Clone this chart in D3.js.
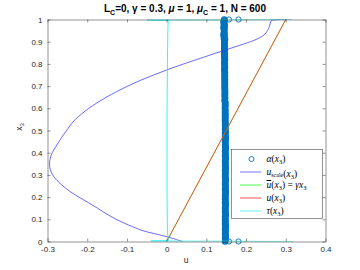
<!DOCTYPE html>
<html>
<head>
<meta charset="utf-8">
<script src="https://cdn.jsdelivr.net/npm/d3@7"></script>
<style>
  body { margin: 0; background: #fff; }
  svg { display: block; }
</style>
</head>
<body>
<div id="chart"></div>
<script>
// tick labels
var uTicks = [-0.3, -0.2, -0.1, 0, 0.1, 0.2, 0.3, 0.4];
var x3Ticks = [0, 0.1, 0.2, 0.3, 0.4, 0.5, 0.6, 0.7, 0.8, 0.9, 1];

// u_scale(x3)
var scaleX3 = [0, 0.01, 0.02, 0.03, 0.04, 0.05, 0.075, 0.1, 0.125, 0.15, 0.175, 0.2, 0.225, 0.25, 0.275,
               0.3, 0.325, 0.35, 0.375, 0.4, 0.425, 0.45, 0.475, 0.5, 0.525, 0.55, 0.575, 0.6, 0.625,
               0.65, 0.675, 0.7, 0.725, 0.75, 0.775, 0.8, 0.83, 0.86, 0.89, 0.91, 0.93, 0.95, 0.97,
               0.99, 0.996, 1];
var scaleU  = [0.04, 0.022, 0.004, -0.018, -0.042, -0.062, -0.097, -0.127, -0.152, -0.174, -0.197, -0.221, -0.243, -0.261, -0.276,
               -0.287, -0.293, -0.295, -0.293, -0.288, -0.28, -0.271, -0.262, -0.252, -0.242, -0.23, -0.214, -0.196, -0.175,
               -0.152, -0.126, -0.098, -0.067, -0.033, 0.004, 0.043, 0.093, 0.143, 0.195, 0.225, 0.245, 0.254, 0.259,
               0.262, 0.264, 0.302];

// ubar(x3) = gamma*x3 and u(x3)
var lineX3 = [0, 0.5, 1];
var ubarU  = [0, 0.15, 0.3];
var uU     = [0, 0.15, 0.3];

// tau(x3)
var tauX3 = [0, 0.002, 0.004, 0.05, 0.2, 0.4, 0.6, 0.8, 0.95, 0.996, 0.998, 1];
var tauU  = [0.32, -0.04, 0.004, 0.002, 0.001, 0.001, 0.001, 0.002, 0.003, 0.004, -0.05, 0.315];

// alpha(x3), sampled on a regular x3 grid
var alphaU = [
  0.147, 0.148, 0.148, 0.147, 0.148, 0.149, 0.148, 0.147, 0.148, 0.148,
  0.148, 0.147, 0.148, 0.148, 0.149, 0.148, 0.147, 0.148, 0.148, 0.147,
  0.148, 0.148, 0.147, 0.148, 0.149, 0.148, 0.148, 0.147, 0.148, 0.148,
  0.147, 0.148, 0.148, 0.149, 0.148, 0.147, 0.148, 0.148, 0.147, 0.148,
  0.148, 0.147, 0.148, 0.148, 0.148, 0.149, 0.148, 0.147, 0.148, 0.148,
  0.148, 0.148, 0.147, 0.148, 0.148, 0.148, 0.149, 0.148, 0.147, 0.148,
  0.147, 0.148, 0.148, 0.148, 0.147, 0.148, 0.149, 0.148, 0.148, 0.147,
  0.148, 0.148, 0.147, 0.148, 0.148, 0.149, 0.148, 0.147, 0.148, 0.148,
  0.148, 0.147, 0.148, 0.148, 0.149, 0.148, 0.148, 0.147, 0.148, 0.148,
  0.147, 0.148, 0.148, 0.149, 0.148, 0.147, 0.148, 0.148, 0.147, 0.148,
  0.148, 0.147, 0.148, 0.148, 0.147, 0.148, 0.148, 0.147, 0.148, 0.147,
  0.147, 0.148, 0.147, 0.148, 0.147, 0.148, 0.147, 0.147, 0.148, 0.147,
  0.147, 0.147, 0.148, 0.147, 0.147, 0.148, 0.147, 0.146, 0.147, 0.147,
  0.147, 0.146, 0.147, 0.147, 0.146, 0.147, 0.147, 0.146, 0.147, 0.146,
  0.146, 0.147, 0.146, 0.147, 0.146, 0.146, 0.147, 0.146, 0.146, 0.147,
  0.146, 0.146, 0.147, 0.146, 0.146, 0.145, 0.146, 0.147, 0.146, 0.146,
  0.146, 0.145, 0.146, 0.146, 0.147, 0.146, 0.145, 0.146, 0.146, 0.145,
  0.146, 0.146, 0.145, 0.146, 0.145, 0.146, 0.146, 0.145, 0.146, 0.145,
  0.146, 0.145, 0.147, 0.144, 0.146, 0.145, 0.143, 0.146, 0.144, 0.145,
  0.145, 0.144, 0.146, 0.143, 0.145, 0.146, 0.144, 0.145, 0.143, 0.146,
  0.145
];
var alphaX3 = d3.range(alphaU.length).map(function(i) { return i / (alphaU.length - 1); });
var alphaEndX3 = [0, 0, 1, 1];
var alphaEndU  = [0.157, 0.181, 0.157, 0.181];

var width = 360, height = 270;
var pLeft = 47.5, pRight = 325.5, pTop = 19.5, pBottom = 241.5;
var axisColor = '#262626';

var svg = d3.select('#chart').append('svg')
    .attr('width', width)
    .attr('height', height)
    .style('font-family', '"Liberation Sans", Arial, sans-serif');

var x = d3.scaleLinear().domain([-0.3, 0.4]).range([pLeft, pRight]);
var y = d3.scaleLinear().domain([0, 1]).range([pBottom, pTop]);

function pairs(xs, us) {
    return xs.map(function(v, i) { return [us[i], v]; });
}

var line = d3.line()
    .x(function(d) { return x(d[0]); })
    .y(function(d) { return y(d[1]); });

var smoothLine = d3.line()
    .curve(d3.curveCatmullRom.alpha(0.5))
    .x(function(d) { return x(d[0]); })
    .y(function(d) { return y(d[1]); });

// clip for the lines
svg.append('clipPath').attr('id', 'clip')
  .append('rect')
    .attr('x', pLeft).attr('y', pTop)
    .attr('width', pRight - pLeft).attr('height', pBottom - pTop);

var plot = svg.append('g');

// alpha markers
var alphaPts = pairs(alphaX3, alphaU).concat(pairs(alphaEndX3, alphaEndU));
plot.selectAll('circle.alpha')
    .data(alphaPts).enter().append('circle')
    .attr('class', 'alpha')
    .attr('cx', function(d) { return x(d[0]); })
    .attr('cy', function(d) { return y(d[1]); })
    .attr('r', 2.6)
    .style('fill', 'none')
    .style('stroke', '#0072BD')
    .style('stroke-width', function(d, i) { return i < alphaU.length ? 1.3 : 0.9; });

var lines = plot.append('g').attr('clip-path', 'url(#clip)');

lines.append('path')
    .datum(pairs(scaleX3, scaleU))
    .attr('d', smoothLine)
    .style('fill', 'none').style('stroke', '#3a3aff').style('stroke-width', 0.75);

lines.append('path')
    .datum(pairs(lineX3, ubarU))
    .attr('d', line)
    .style('fill', 'none').style('stroke', '#00ff00').style('stroke-width', 0.4);

lines.append('path')
    .datum(pairs(lineX3, uU))
    .attr('d', line)
    .style('fill', 'none').style('stroke', '#e0561c').style('stroke-width', 1);

lines.append('path')
    .datum(pairs(tauX3, tauU))
    .attr('d', line)
    .style('fill', 'none').style('stroke', '#22f0f0').style('stroke-width', 0.9);

// axes (ticks inward, mirrored on top and right)
function styleAxis(g) {
    g.selectAll('path.domain').style('stroke', axisColor).style('stroke-width', 0.5);
    g.selectAll('.tick line').style('stroke', axisColor).style('stroke-width', 0.5);
    g.selectAll('.tick text').style('fill', axisColor).style('font-size', '8px')
        .style('font-family', '"Liberation Sans", Arial, sans-serif');
}

svg.append('g')
    .attr('transform', 'translate(0,' + pBottom + ')')
    .call(d3.axisBottom(x).tickValues(uTicks).tickSize(-3).tickSizeOuter(0).tickPadding(4.5)
        .tickFormat(function(d) { return String(d); }))
    .call(styleAxis);

svg.append('g')
    .attr('transform', 'translate(0,' + pTop + ')')
    .call(d3.axisTop(x).tickValues(uTicks).tickSize(-3).tickSizeOuter(0).tickFormat(''))
    .call(styleAxis);

svg.append('g')
    .attr('transform', 'translate(' + pLeft + ',0)')
    .call(d3.axisLeft(y).tickValues(x3Ticks).tickSize(-3).tickSizeOuter(0).tickPadding(5)
        .tickFormat(function(d) { return String(d); }))
    .call(styleAxis);

svg.append('g')
    .attr('transform', 'translate(' + pRight + ',0)')
    .call(d3.axisRight(y).tickValues(x3Ticks).tickSize(-3).tickSizeOuter(0).tickFormat(''))
    .call(styleAxis);

// title
var title = svg.append('text')
    .attr('x', 185).attr('y', 12)
    .attr('text-anchor', 'middle')
    .style('font-size', '10px').style('font-weight', 'bold').style('fill', '#000');
title.append('tspan').text('L');
title.append('tspan').attr('dy', 2.5).style('font-size', '7px').text('C');
title.append('tspan').attr('dy', -2.5).text('=0, \u03b3 = 0.3, ');
title.append('tspan').style('font-style', 'italic').text('\u03bc');
title.append('tspan').text(' = 1, ');
title.append('tspan').style('font-style', 'italic').text('\u03bc');
title.append('tspan').attr('dy', 2.5).style('font-size', '7px').text('C');
title.append('tspan').attr('dy', -2.5).text(' = 1, N = 600');

// axis labels
svg.append('text')
    .attr('x', 186).attr('y', 262.5)
    .attr('text-anchor', 'middle')
    .style('font-size', '8.5px').style('fill', axisColor)
    .text('u');

var ylab = svg.append('text')
    .attr('transform', 'translate(21.7,127) rotate(-90)')
    .attr('text-anchor', 'middle')
    .style('font-size', '8.5px').style('fill', axisColor);
ylab.append('tspan').text('x');
ylab.append('tspan').attr('dy', 2).style('font-size', '6px').text('3');

// legend
var legend = svg.append('g');
legend.append('rect')
    .attr('x', 231.5).attr('y', 149.5).attr('width', 91).attr('height', 69)
    .style('fill', '#fff').style('stroke', axisColor).style('stroke-width', 0.5);

var legendRows = [159, 172, 185, 198, 211];
var legendColors = [null, '#3a3aff', '#00ff00', '#ff0000', '#22f0f0'];
var serif = '"Liberation Serif", "Times New Roman", serif';

legend.append('circle')
    .attr('cx', 251.5).attr('cy', legendRows[0]).attr('r', 2.5)
    .style('fill', 'none').style('stroke', '#0072BD').style('stroke-width', 0.9);

legendColors.forEach(function(c, i) {
    if (!c) return;
    legend.append('line')
        .attr('x1', 240).attr('x2', 261)
        .attr('y1', legendRows[i]).attr('y2', legendRows[i])
        .style('stroke', c).style('stroke-width', 0.7);
});

function legendText(i) {
    return legend.append('text')
        .attr('x', 266.5).attr('y', legendRows[i] + 3)
        .style('font-family', serif).style('font-size', '9.5px').style('fill', '#000');
}
function arg(t) {
    t.append('tspan').text('(');
    t.append('tspan').style('font-style', 'italic').text('x');
    t.append('tspan').attr('dy', 1.8).style('font-size', '6.5px').text('3');
    t.append('tspan').attr('dy', -1.8).text(')');
}

var t0 = legendText(0);
t0.append('tspan').style('font-style', 'italic').text('\u03b1');
arg(t0);

var t1 = legendText(1);
t1.append('tspan').style('font-style', 'italic').text('u');
t1.append('tspan').attr('dy', 1.8).style('font-size', '6px').text('scale');
t1.append('tspan').attr('dy', -1.8).text('');
arg(t1);

var t2 = legendText(2);
t2.append('tspan').style('font-style', 'italic').style('text-decoration', 'overline').text('u');
arg(t2);
t2.append('tspan').text(' = ');
t2.append('tspan').style('font-style', 'italic').text('\u03b3x');
t2.append('tspan').attr('dy', 1.8).style('font-size', '6.5px').text('3');

var t3 = legendText(3);
t3.append('tspan').style('font-style', 'italic').text('u');
arg(t3);

var t4 = legendText(4);
t4.append('tspan').style('font-style', 'italic').text('\u03c4');
arg(t4);
</script>
</body>
</html>
